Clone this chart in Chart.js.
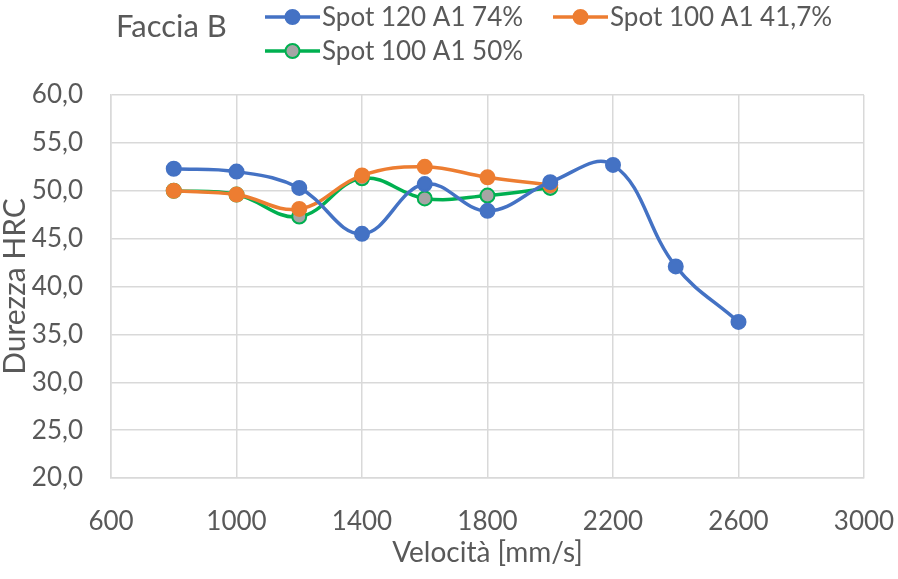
<!DOCTYPE html>
<html>
<head>
<meta charset="utf-8">
<script src="https://cdn.jsdelivr.net/npm/chart.js@4/dist/chart.umd.min.js"></script>
<style>
  html, body { margin: 0; padding: 0; background: #fff; }
  #wrap { width: 898px; height: 579px; }
</style>
</head>
<body>
<div id="wrap"><canvas id="durezza" width="898" height="579"></canvas></div>
<script>
// velocità [mm/s]
var vel120 = [800, 1000, 1200, 1400, 1600, 1800, 2000, 2200, 2400, 2600];
var vel100 = [800, 1000, 1200, 1400, 1600, 1800, 2000];

// durezza HRC
var spot120_74 = [52.3, 52.0, 50.3, 45.5, 50.7, 47.9, 50.9, 52.7, 42.1, 36.3];
var spot100_417 = [50.0, 49.6, 48.1, 51.6, 52.5, 51.4, 50.6];
var spot100_50 = [50.0, 49.6, 47.3, 51.3, 49.2, 49.5, 50.3];

var yTicks = [20, 25, 30, 35, 40, 45, 50, 55, 60];
var xTicks = [600, 1000, 1400, 1800, 2200, 2600, 3000];

var chartTitle = 'Faccia B';
var xTitle = 'Velocità [mm/s]';
var yTitle = 'Durezza HRC';

var grey = '#595959';
var font = 'Lato';

function pts(xs, ys) {
  return xs.map(function (x, i) { return { x: x, y: ys[i] }; });
}

function serie(label, xs, ys, line, fill) {
  return {
    label: label,
    data: pts(xs, ys),
    borderColor: line,
    backgroundColor: fill,
    pointBackgroundColor: fill,
    pointBorderColor: line,
    borderWidth: 3.5,
    pointRadius: 7,
    pointBorderWidth: 2,
    tension: 0.4
  };
}

// title and legend share the top strip
var headerPlugin = {
  id: 'header',
  afterDraw: function (chart) {
    var c = chart.ctx;
    c.save();
    c.fillStyle = grey;
    c.textBaseline = 'middle';
    c.textAlign = 'left';
    c.font = '31px ' + font;
    c.fillText(chartTitle, 116, 27);

    var slots = [[265, 17], [553, 17], [265, 51]];
    c.font = '26px ' + font;
    chart.data.datasets.forEach(function (ds, i) {
      var x = slots[i][0], y = slots[i][1];
      c.strokeStyle = ds.borderColor;
      c.lineWidth = 3.5;
      c.beginPath();
      c.moveTo(x, y);
      c.lineTo(x + 55, y);
      c.stroke();
      c.beginPath();
      c.arc(x + 27.5, y, 7, 0, Math.PI * 2);
      c.fillStyle = ds.pointBackgroundColor;
      c.fill();
      c.lineWidth = 2;
      c.stroke();
      c.fillStyle = grey;
      c.fillText(ds.label, x + 57, y + 1);
    });
    c.restore();
  }
};

new Chart(document.getElementById('durezza'), {
  type: 'line',
  data: {
    datasets: [
      serie('Spot 120 A1 74%', vel120, spot120_74, '#4472C4', '#4472C4'),
      serie('Spot 100 A1 41,7%', vel100, spot100_417, '#ED7D31', '#ED7D31'),
      serie('Spot 100 A1 50%', vel100, spot100_50, '#00B050', '#A5A5A5')
    ]
  },
  options: {
    responsive: false,
    animation: false,
    layout: { padding: { left: 0, right: 34, top: 95, bottom: 0 } },
    plugins: {
      legend: { display: false },
      title: { display: false },
      tooltip: { enabled: false }
    },
    scales: {
      x: {
        type: 'linear',
        min: xTicks[0],
        max: xTicks[xTicks.length - 1],
        afterBuildTicks: function (s) { s.ticks = xTicks.map(function (v) { return { value: v }; }); },
        afterFit: function (s) { s.height = 101; s.paddingLeft = 0; s.paddingRight = 0; },
        grid: { color: '#D9D9D9', lineWidth: 1.5, drawTicks: false },
        border: { color: '#D9D9D9', width: 1.5 },
        ticks: {
          color: grey, padding: 28, maxRotation: 0,
          font: { family: font, size: 26 },
          callback: function (v) { return String(v); }
        },
        title: { display: true, text: xTitle, color: grey, padding: { top: 0, bottom: 9 }, font: { family: font, size: 28 } }
      },
      y: {
        min: yTicks[0],
        max: yTicks[yTicks.length - 1],
        afterBuildTicks: function (s) { s.ticks = yTicks.map(function (v) { return { value: v }; }); },
        afterFit: function (s) { s.width = 111; s.paddingTop = 0; s.paddingBottom = 0; },
        grid: { color: '#D9D9D9', lineWidth: 1.5, drawTicks: false },
        border: { color: '#D9D9D9', width: 1.5 },
        ticks: {
          color: grey, padding: 28,
          font: { family: font, size: 26 },
          callback: function (v) { return v.toFixed(1).replace('.', ','); }
        },
        title: { display: true, text: yTitle, color: grey, padding: { top: 0, bottom: 0 }, font: { family: font, size: 30, lineHeight: 1 } }
      }
    }
  },
  plugins: [headerPlugin]
});
</script>
</body>
</html>
